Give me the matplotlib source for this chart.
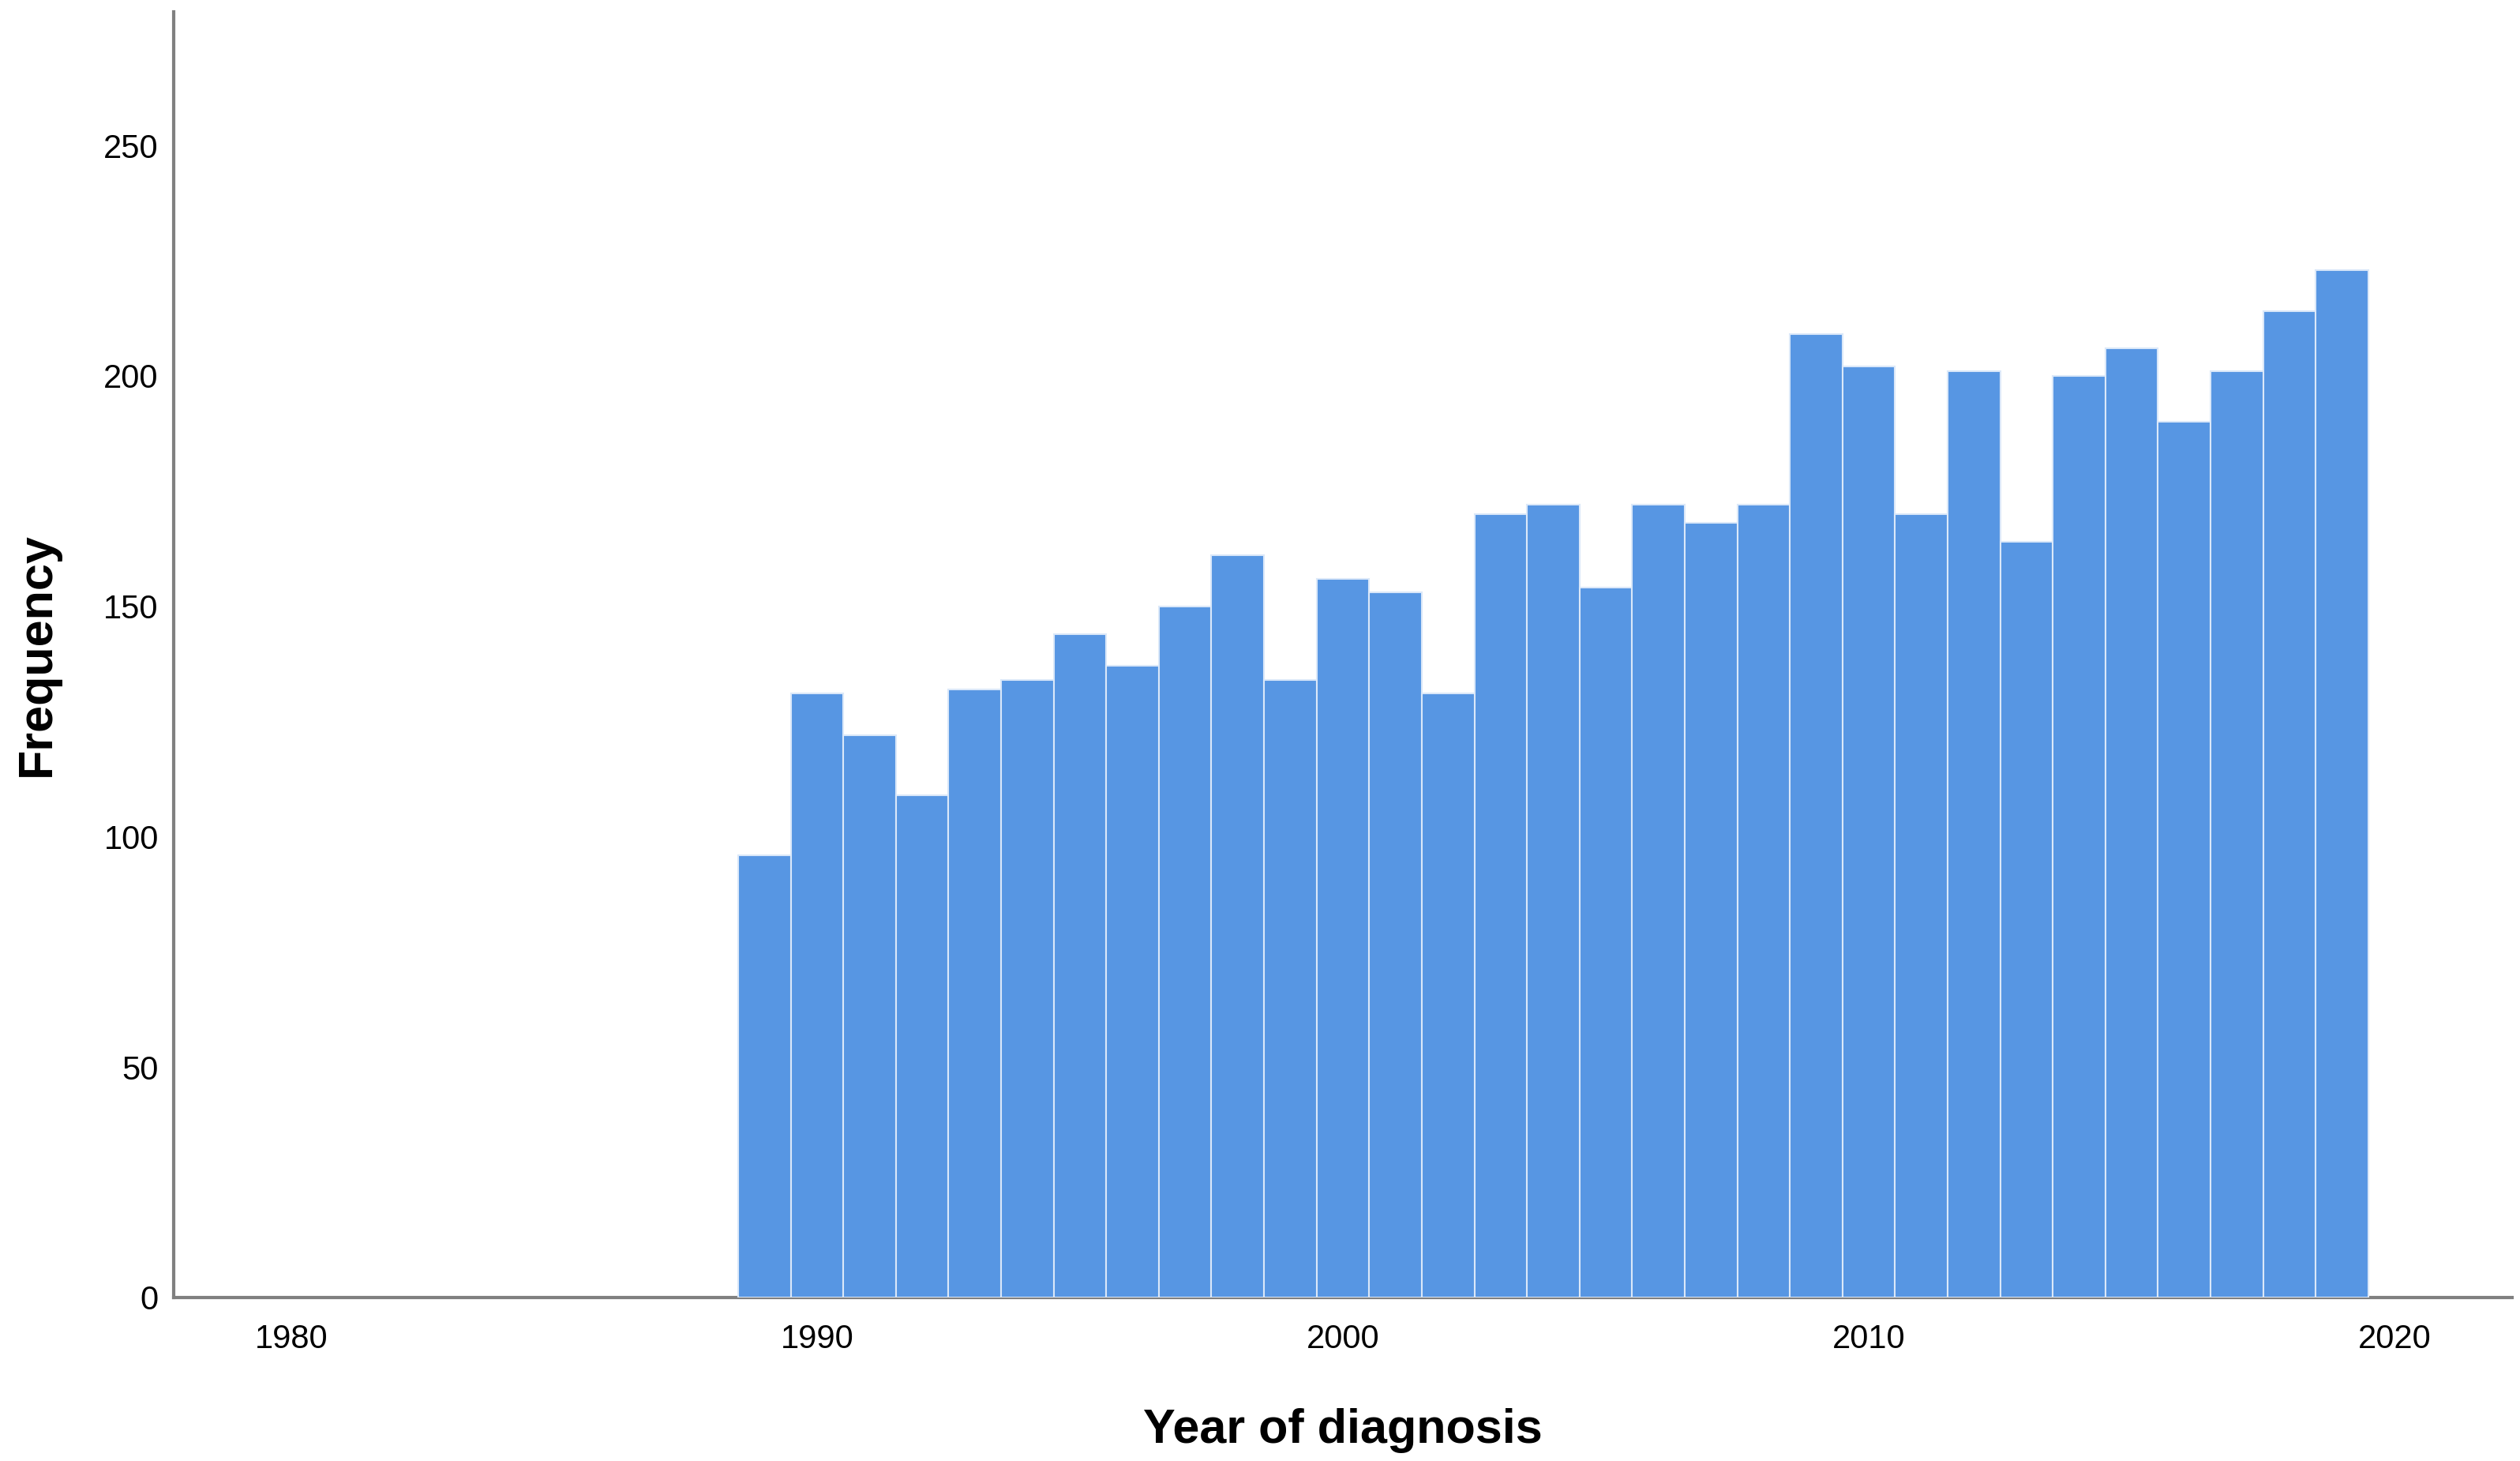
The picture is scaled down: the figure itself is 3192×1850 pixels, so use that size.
import matplotlib.pyplot as plt

plt.rcParams['font.family'] = ['Liberation Sans', 'DejaVu Sans']

# year of diagnosis and number of cases per year
years = list(range(1989, 2020))
counts = [96, 131, 122, 109, 132, 134, 144, 137, 150, 161,
          134, 156, 153, 131, 170, 172, 154, 172, 168, 172,
          209, 202, 170, 201, 164, 200, 206, 190, 201, 214, 223]

x_ticks = [1980, 1990, 2000, 2010, 2020]
y_ticks = [0, 50, 100, 150, 200, 250]

fig = plt.figure(figsize=(31.92, 18.5), dpi=100)
ax = fig.add_axes([0.069, 0.112, 0.928, 0.880])

ax.bar(years, counts, width=1.0, color="#5796e3", edgecolor="#dbe8f9",
       linewidth=1.5, zorder=3)

ax.set_xlim(1977.77, 2022.24)
ax.set_ylim(0, 279)
ax.set_xticks(x_ticks)
ax.set_yticks(y_ticks)
ax.tick_params(axis="both", length=0, labelsize=30)
ax.tick_params(axis="x", pad=24)
ax.tick_params(axis="y", pad=14)

for side in ["top", "right"]:
    ax.spines[side].set_visible(False)
for side in ["left", "bottom"]:
    ax.spines[side].set_color("#808080")
    ax.spines[side].set_linewidth(3)

ax.set_xlabel("Year of diagnosis", fontsize=44, fontweight="bold", labelpad=48)
ax.set_ylabel("Frequency", fontsize=44, fontweight="bold", labelpad=40)

fig.savefig("out.png", dpi=100, facecolor="white")
